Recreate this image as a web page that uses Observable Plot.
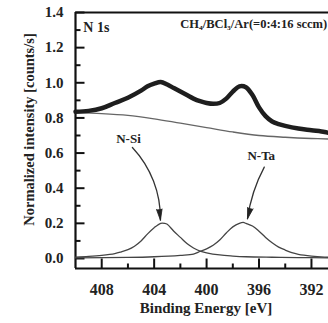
<!DOCTYPE html>
<html><head><meta charset="utf-8">
<script src="https://cdn.jsdelivr.net/npm/d3@7"></script>
<script src="https://cdn.jsdelivr.net/npm/@observablehq/plot@0.6"></script>
<style>html,body{margin:0;padding:0;background:#fff;overflow:hidden}#chart svg{display:block}</style>
</head><body><div id="chart"></div>
<script>
// Measured N 1s spectrum (binding energy eV, normalized intensity)
const measuredE = [410, 409, 408, 407, 406, 405, 404.5, 404, 403.5, 403, 402.5, 402, 401.5, 401, 400.5, 400, 399.5, 399, 398.5, 398, 397.5, 397, 396.5, 396, 395.5, 395, 394.5, 394, 393, 392, 391, 390.7];
const measuredI = [0.835, 0.84, 0.855, 0.885, 0.915, 0.955, 0.98, 0.995, 1.005, 0.99, 0.97, 0.95, 0.93, 0.91, 0.895, 0.885, 0.88, 0.885, 0.91, 0.95, 0.98, 0.975, 0.93, 0.86, 0.81, 0.78, 0.765, 0.755, 0.74, 0.73, 0.72, 0.715];
// Background
const backgroundE = [410, 408, 406, 404, 402, 400, 398, 396, 394, 392, 390.7];
const backgroundI = [0.83, 0.825, 0.815, 0.795, 0.77, 0.745, 0.72, 0.70, 0.69, 0.683, 0.68];
// N-Si component
const nSiE = [410, 409, 408, 407, 406.5, 406, 405.5, 405, 404.5, 404, 403.5, 403.2, 403, 402.5, 402, 401.5, 401, 400.5, 400, 399, 398, 397, 395, 393, 390.7];
const nSiI = [0.008, 0.012, 0.018, 0.028, 0.038, 0.05, 0.07, 0.1, 0.14, 0.175, 0.2, 0.2, 0.195, 0.155, 0.12, 0.085, 0.06, 0.042, 0.032, 0.02, 0.014, 0.01, 0.007, 0.005, 0.004];
// N-Ta component
const nTaE = [410, 406, 404, 402, 401, 400.5, 400, 399.5, 399, 398.5, 398, 397.5, 397.2, 397, 396.5, 396, 395.5, 395, 394.5, 394, 393.5, 393, 392, 391, 390.7];
const nTaI = [0.003, 0.006, 0.01, 0.018, 0.025, 0.04, 0.055, 0.075, 0.105, 0.145, 0.18, 0.2, 0.205, 0.2, 0.185, 0.155, 0.12, 0.09, 0.065, 0.048, 0.033, 0.024, 0.014, 0.008, 0.007];

const xDomain = [410, 390.7];
const yDomain = [-0.057, 1.4];
const xMajor = [408, 404, 400, 396, 392];
const xMinor = [406, 402, 398, 394];
const yMajor = [0, 0.2, 0.4, 0.6, 0.8, 1.0, 1.2, 1.4];
const yMinor = [0.1, 0.3, 0.5, 0.7, 0.9, 1.1, 1.3];

// Annotations
const peakLabels = ["N-Si", "N-Ta"];
const peakLabelE = [405.96, 395.83];
const peakLabelI = [0.683, 0.586];
const arrowFromE = [405.66, 395.6];
const arrowFromI = [0.632, 0.52];
const arrowToE = [403.52, 396.88];
const arrowToI = [0.218, 0.226];
const arrowHeadAngle = [174, 195];
const titleText = "CH\u2084/BCl\u2083/Ar(=0:4:16 sccm)";
const coreLevel = "N 1s";
const yTitle = "Normalized intensity [counts/s]";
const xTitle = "Binding Energy [eV]";

const tbl = (E, I) => E.map((e, i) => ({e, v: I[i]}));
const arrowAt = (i) => [{x1: arrowFromE[i], y1: arrowFromI[i], x2: arrowToE[i], y2: arrowToI[i], a: arrowHeadAngle[i]}];
const labels = peakLabels.map((l, i) => ({l, e: peakLabelE[i], v: peakLabelI[i]}));

const tickShape = {draw(context, l) { context.moveTo(0, 0); context.lineTo(0, -l); }};
const font = "'Liberation Serif', 'Times New Roman', serif";
const chart = Plot.plot({
  width: 328, height: 323,
  marginLeft: 75, marginRight: 0, marginTop: 12, marginBottom: 55,
  x: {domain: xDomain},
  y: {domain: yDomain},
  style: {fontFamily: font, fontWeight: "bold", fontSize: "14px", color: "#222", background: "#fff"},
  marks: [
    Plot.axisY({ticks: yMajor, tickSize: 0, tickPadding: 12, tickFormat: d3.format(".1f"), fontSize: 15, label: null}),
    Plot.axisX({ticks: xMajor, tickSize: 0, tickPadding: 15, tickFormat: d => String(d), fontSize: 16, label: null}),
    Plot.text([yTitle], {text: d => d, frameAnchor: "left", textAnchor: "middle", dx: -46.5, dy: -11, rotate: -90, fontSize: 14.5, fill: "#222"}),
    Plot.text([xTitle], {text: d => d, frameAnchor: "bottom", dy: 44, dx: 4, fontSize: 15, fill: "#222"}),
    Plot.vector(yMajor, {x: () => xDomain[0], y: d => d, length: 9, rotate: 90, anchor: "start", shape: tickShape, stroke: "#111", strokeWidth: 2, strokeLinecap: "butt"}),
    Plot.vector(yMinor, {x: () => xDomain[0], y: d => d, length: 5, rotate: 90, anchor: "start", shape: tickShape, stroke: "#111", strokeWidth: 2, strokeLinecap: "butt"}),
    Plot.vector(xMajor, {x: d => d, y: () => yDomain[0], length: 10, rotate: 0, anchor: "start", shape: tickShape, stroke: "#111", strokeWidth: 2, strokeLinecap: "butt"}),
    Plot.vector(xMinor, {x: d => d, y: () => yDomain[0], length: 5, rotate: 0, anchor: "start", shape: tickShape, stroke: "#111", strokeWidth: 2, strokeLinecap: "butt"}),
    Plot.ruleX([xDomain[0]], {stroke: "#111", strokeWidth: 2.2}),
    Plot.ruleY([yDomain[1]], {stroke: "#111", strokeWidth: 2.2}),
    Plot.ruleY([yDomain[0]], {stroke: "#111", strokeWidth: 2.2}),
    Plot.line(tbl(backgroundE, backgroundI), {x: "e", y: "v", stroke: "#666", strokeWidth: 1.3, curve: "catmull-rom"}),
    Plot.line(tbl(nSiE, nSiI), {x: "e", y: "v", stroke: "#444", strokeWidth: 1.3, curve: "catmull-rom"}),
    Plot.line(tbl(nTaE, nTaI), {x: "e", y: "v", stroke: "#444", strokeWidth: 1.3, curve: "catmull-rom"}),
    Plot.line(tbl(measuredE, measuredI), {x: "e", y: "v", stroke: "#1e1e1e", strokeWidth: 4.5, curve: "catmull-rom"}),
    Plot.arrow(arrowAt(0), {x1: "x1", y1: "y1", x2: "x2", y2: "y2", bend: 22, stroke: "#333", strokeWidth: 1.3, headLength: 0}),
    Plot.arrow(arrowAt(1), {x1: "x1", y1: "y1", x2: "x2", y2: "y2", bend: -10, stroke: "#333", strokeWidth: 1.3, headLength: 0}),
    Plot.vector([...arrowAt(0), ...arrowAt(1)], {x: "x2", y: "y2", rotate: "a", length: 11, r: 2.8, anchor: "end", shape: "spike", fill: "#222", stroke: "#222", strokeWidth: 0.8}),
    Plot.text(labels, {x: "e", y: "v", text: "l", fontSize: 13, fill: "#222"}),
    Plot.text([coreLevel], {x: () => 409.4, y: () => 1.315, text: d => d, textAnchor: "start", fontSize: 14, fill: "#222"}),
    Plot.text([titleText], {x: () => 390.8, y: () => 1.335, text: d => d, textAnchor: "end", fontSize: 12.5, fill: "#222"})
  ]
});
document.getElementById("chart").appendChild(chart);
</script>
</body></html>
